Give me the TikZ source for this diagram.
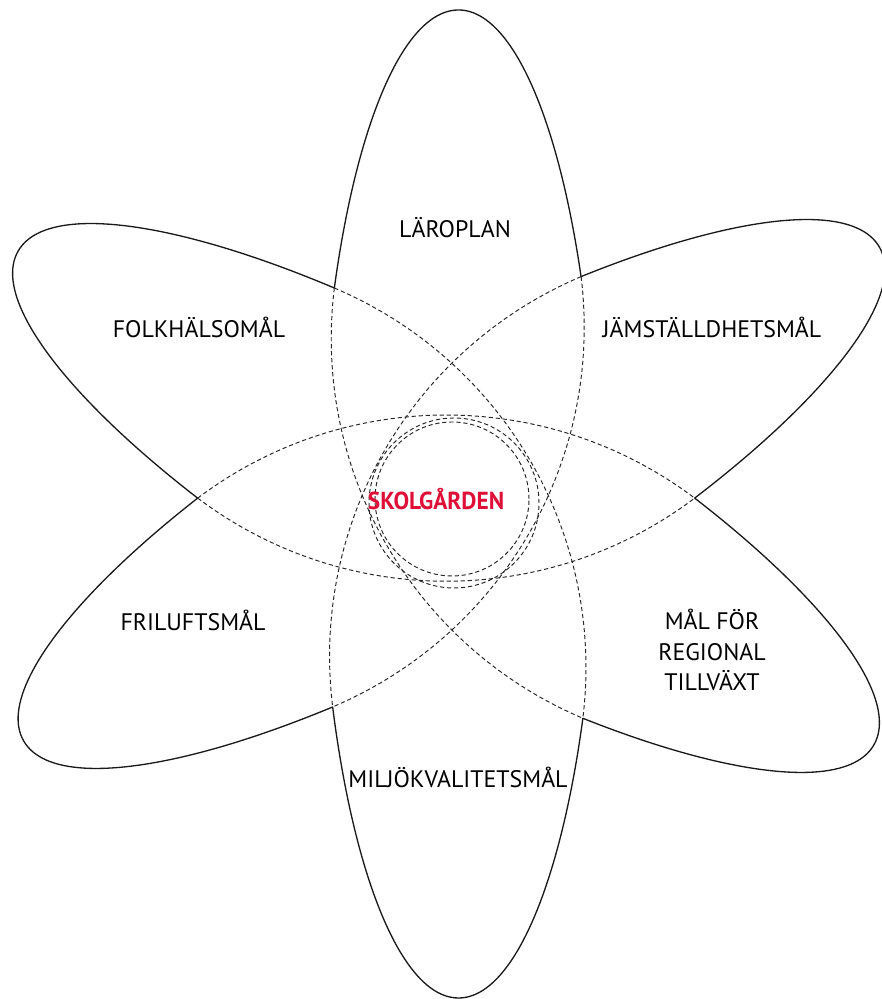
\documentclass[tikz,border=0pt]{standalone}
\usepackage{fontspec}
\setmainfont{PT Sans}
\usepackage{xcolor}
\usetikzlibrary{intersections}
\definecolor{skolred}{RGB}{222,16,56}

\begin{document}
\begin{tikzpicture}[x=0.02cm, y=0.02cm,
    outline/.style={line width=0.75pt, black!90},
    innerline/.style={line width=0.55pt, black!85, dash pattern=on 2.4pt off 1.6pt},
    lens/.style={innerline, looseness=0.95},
    goal/.style={font=\fontsize{13.6}{17.5}\selectfont, align=center, text=black}]
    \useasboundingbox (0,0) rectangle (881,999);
    \def\petalV{(458.5,495) ellipse [x radius=138, y radius=494]}
    \def\petalL{(446,501) ellipse [x radius=494, y radius=138, rotate=-30]}
    \def\petalR{(451.5,505) ellipse [x radius=494, y radius=138, rotate=30]}
    % clockwise frame, so a petal inside it is cut out of the clip
    \def\outside{(-50,-50) -- (-50,1049) -- (931,1049) -- (931,-50) -- cycle}

    % junctions where the solid outlines meet
    \path[name path=pv] \petalV;
    \path[name path=pl] \petalL;
    \path[name path=pr] \petalR;
    \path[name intersections={of=pv and pl, sort by=pv, by={vl1,TL,vl3,BR}}];
    \path[name intersections={of=pv and pr, sort by=pv, by={TR,vr2,BL,vr4}}];
    \path[name intersections={of=pl and pr, sort by=pl, by={R,lr2,L,lr4}}];

    % solid outer parts
    \begin{scope}
        \clip \outside \petalL;
        \clip \outside \petalR;
        \draw[outline] \petalV;
    \end{scope}
    \begin{scope}
        \clip \outside \petalV;
        \clip \outside \petalR;
        \draw[outline] \petalL;
    \end{scope}
    \begin{scope}
        \clip \outside \petalV;
        \clip \outside \petalL;
        \draw[outline] \petalR;
    \end{scope}

    % dashed lenses through the middle
    \foreach \a/\b in {L/R, TL/BR, TR/BL}
        \draw[lens] (\a) to[bend left=37] (\b) (\a) to[bend right=37] (\b);
    \draw[innerline] (454,496) circle [radius=85];
    \draw[innerline] (452,500) circle [radius=77];

    % labels
    \node[goal] (lar) at (455,771) {LÄROPLAN};
    \node[goal] (folk) at (199,672) {FOLKHÄLSOMÅL};
    \node[goal] (jam) at (712,672) {JÄMSTÄLLDHETSMÅL};
    \node[goal] (fri) at (193,379) {FRILUFTSMÅL};
    \node[goal] (reg) at (712,349) {MÅL FÖR\\REGIONAL\\TILLVÄXT};
    \node[goal] (milj) at (458,222) {MILJÖKVALITETSMÅL};
    \node[goal, font=\fontsize{14}{17}\selectfont, text=skolred] (skol) at (436,500)
        {\scalebox{0.95}[1]{\bfseries SKOLGÅRDEN}};
\end{tikzpicture}
\end{document}
